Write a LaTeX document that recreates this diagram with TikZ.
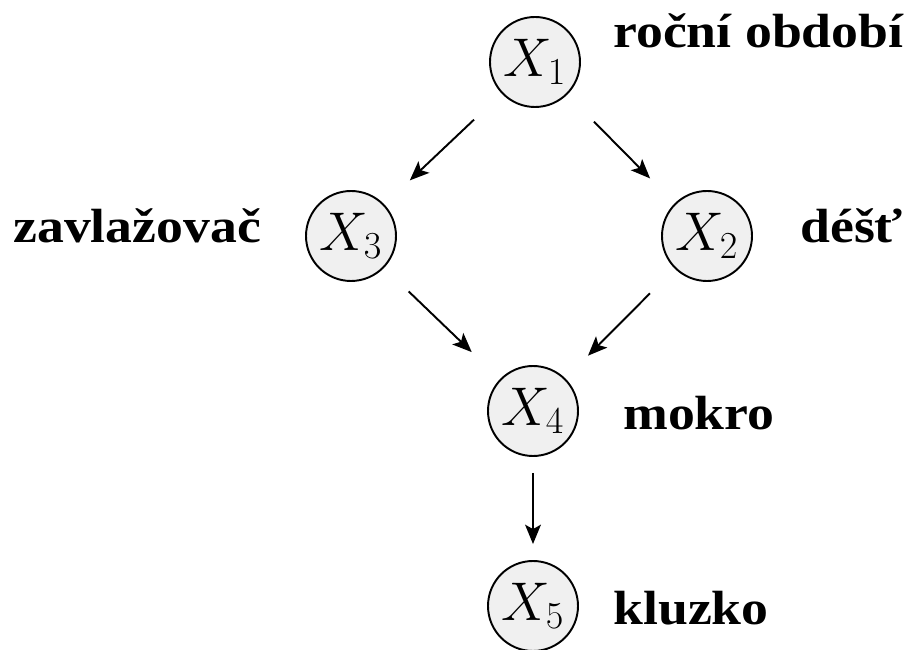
\RequirePackage{fix-cm}
\documentclass[tikz,border=0pt]{standalone}
\usepackage{amsmath}
\usepackage{fontspec}
\newfontfamily\labelfont[FakeStretch=1.12]{Liberation Serif}
\usetikzlibrary{arrows.meta}

\begin{document}
\begin{tikzpicture}[
  var/.style={circle,draw,line width=1.1pt,fill=black!6,minimum size=1.8cm,inner sep=0pt,
    font=\fontsize{31}{36}\selectfont},
  lbl/.style={anchor=base west,inner sep=0pt,
    font=\labelfont\bfseries\fontsize{27.3}{32}\selectfont},
  arc/.style={-{Stealth[length=11pt,width=9pt,inset=2.5pt]},line width=1.1pt}]
\useasboundingbox (0,0) rectangle (18.38,-13);
% nodes
\draw (10.7,-1.24) node[var] (x1) {$X_1$};
\draw (14.14,-4.72) node[var] (x2) {$X_2$};
\draw (7.02,-4.72) node[var] (x3) {$X_3$};
\draw (10.66,-8.22) node[var] (x4) {$X_4$};
\draw (10.66,-12.12) node[var] (x5) {$X_5$};
% labels
\draw (12.26,-0.96) node[lbl] (l1) {roční období};
\draw (16.0,-4.86) node[lbl] (l2) {déšť};
\draw (0.26,-4.86) node[lbl] (l3) {zavlažovač};
\draw (12.46,-8.6) node[lbl] (l4) {mokro};
\draw (12.26,-12.5) node[lbl] (l5) {kluzko};
% edges
\path (x1) edge [arc,shorten <=0.76cm,shorten >=0.7cm] (x3);
\path (x1) edge [arc,shorten <=0.76cm,shorten >=0.7cm] (x2);
\path (x3) edge [arc,shorten <=0.68cm,shorten >=0.78cm] (x4);
\path (x2) edge [arc,shorten <=0.7cm,shorten >=0.64cm] (x4);
\path (x4) edge [arc,shorten <=0.32cm,shorten >=0.32cm] (x5);
\end{tikzpicture}
\end{document}
